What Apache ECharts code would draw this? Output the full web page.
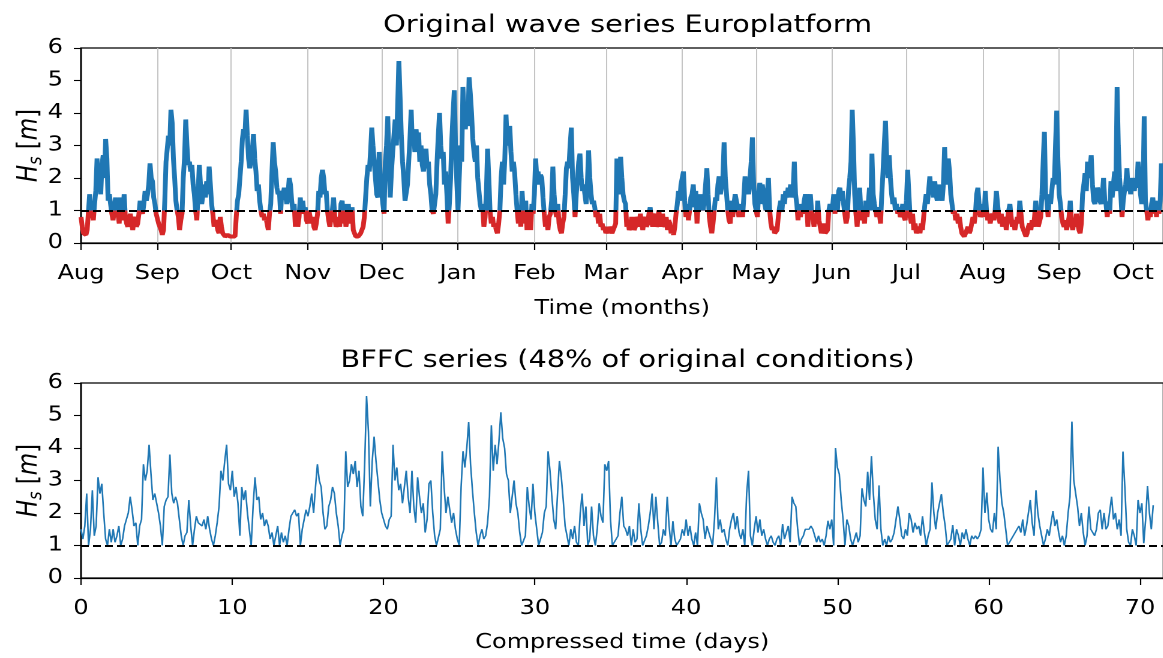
<!DOCTYPE html>
<html>
<head>
<meta charset="utf-8">
<title>Europlatform wave series</title>
<script src="https://cdn.jsdelivr.net/npm/echarts@6/dist/echarts.min.js"></script>
<style>
  html, body { margin: 0; padding: 0; background: #fff; overflow: hidden; }
  #wrap { width: 1163px; height: 658px; overflow: hidden; }
  /* the figure is laid out on a narrower canvas and widened 1.2x */
  #chart { width: 970px; height: 658px; transform: scaleX(1.2); transform-origin: 0 0; }
</style>
</head>
<body>
<div id="wrap"><div id="chart"></div></div>
<script>
// ---- Hs [m] at Europlatform, two samples per day (00h, 12h), Aug 2015 - Oct 2016 ----
const aug15 = [0.8,0.5, 0.3,0.35, 0.25,0.4, 0.4,1.5, 0.8,0.9, 0.7,1.2, 1.6,2.6, 1.8,2.1, 1.5,2.4, 2.7,2.0,
  3.2,2.6, 1.3,1.5, 1.5,0.9, 0.7,1.0, 1.4,0.8, 0.9,0.6, 1.4,0.7, 0.9,1.5, 0.8,0.6, 0.5,0.7,
  0.9,0.6, 0.4,0.7, 0.8,0.5, 0.6,0.9, 1.3,1.0, 0.9,1.2, 1.6,1.3, 1.5,1.8, 2.45,2.0, 1.9,1.4, 1.2,0.9];
const sep15 = [0.9,0.6, 0.5,0.4, 0.25,0.4, 1.3,2.5, 2.5,3.3, 3.0,4.1, 3.7,2.6, 2.0,1.3, 1.0,0.8, 0.4,0.7,
  0.9,2.0, 2.6,3.8, 3.0,2.4, 2.5,2.2, 2.4,1.8, 1.5,1.0, 0.7,1.5, 2.4,1.8, 1.2,1.5, 1.8,1.4,
  1.9,1.5, 2.35,1.8, 1.2,0.9, 0.5,0.7, 0.6,0.4, 0.3,0.8, 0.5,0.3, 0.25,0.2, 0.2,0.25, 0.2,0.2];
const oct15 = [0.2,0.2, 0.25,0.2, 0.8,1.3, 1.5,2.0, 2.5,3.2, 3.5,3.3, 4.1,3.3, 2.6,2.3, 2.5,2.8, 3.35,2.6,
  2.2,1.6, 1.8,1.3, 1.0,0.8, 0.9,0.7, 0.8,0.6, 0.4,0.9, 1.2,2.2, 3.1,2.5, 2.2,1.7, 1.5,1.6,
  0.9,1.6, 1.5,1.7, 1.5,1.2, 1.5,2.0, 1.8,1.3, 1.0,1.2, 0.5,0.9, 0.5,0.8, 1.4,0.9, 1.3,0.9, 1.1,0.7];
const nov15 = [0.6,1.0, 0.8,0.6, 0.8,0.5, 0.4,0.6, 0.9,1.6, 1.4,2.0, 2.25,2.0, 1.5,1.6, 1.0,0.7, 0.5,0.8,
  1.0,1.4, 0.8,0.5, 0.6,0.8, 0.5,1.2, 1.3,0.6, 1.2,0.5, 0.7,1.2, 0.6,0.8, 1.1,0.4, 0.3,0.2,
  0.25,0.2, 0.2,0.3, 0.3,0.5, 0.8,1.4, 2.0,2.4, 2.2,2.8, 3.55,3.0, 2.5,2.0, 1.5,1.4, 2.8,2.0];
const dec15 = [1.6,1.2, 0.9,2.5, 3.0,3.9, 2.5,1.4, 2.2,2.8, 3.3,3.8, 3.0,4.2, 5.6,4.5, 3.3,2.5, 2.0,1.3,
  1.3,1.8, 2.5,3.2, 4.1,3.0, 3.4,2.8, 3.5,3.0, 3.4,2.5, 3.0,2.4, 2.2,2.6, 2.9,2.3, 2.5,1.8,
  1.5,1.0, 0.9,1.2, 1.5,2.5, 3.3,4.0, 3.0,2.6, 2.8,1.8, 2.2,1.5, 0.6,1.2, 2.0,3.2, 4.0,4.7, 3.0,1.9];
const jan16 = [1.0,2.0, 3.0,2.5, 4.8,4.0, 3.5,4.2, 3.6,5.1, 4.6,4.0, 3.2,2.8, 2.5,3.0, 2.0,1.6, 1.2,1.0,
  1.2,0.5, 0.8,1.5, 2.9,2.0, 1.0,0.6, 0.8,0.5, 0.6,0.4, 0.3,0.6, 1.0,2.0, 2.5,1.8, 2.6,3.95,
  3.0,3.2, 3.6,2.8, 2.2,2.5, 2.15,1.5, 1.0,0.6, 0.9,0.5, 1.6,1.0, 0.6,1.3, 0.4,0.8, 1.0,0.4, 1.2,0.9];
const feb16 = [1.5,2.6, 2.0,2.2, 1.8,2.1, 2.0,1.4, 0.9,0.5, 0.7,0.4, 0.8,0.9, 1.3,2.35, 1.5,1.0, 0.8,1.2,
  0.6,0.4, 0.3,0.6, 0.8,1.5, 2.3,2.5, 2.3,3.0, 3.55,2.0, 1.5,0.8, 1.5,2.0, 2.5,2.75, 2.0,1.6,
  1.8,1.5, 1.2,1.8, 2.85,2.0, 1.5,1.2, 1.3,1.1, 0.8,1.0, 0.6,0.9, 0.5,0.6, 0.4,0.5];
const mar16 = [0.3,0.4, 0.3,0.5, 0.4,0.3, 0.4,0.5, 0.6,2.6, 1.5,1.8, 2.65,2.0, 1.5,1.3, 1.2,0.5, 0.7,0.4,
  0.5,0.8, 0.6,0.4, 0.5,0.8, 0.7,0.5, 0.9,0.6, 0.4,0.7, 0.8,0.5, 0.6,0.9, 1.1,0.7, 0.5,0.8,
  0.9,0.5, 0.6,1.0, 0.7,0.5, 0.9,0.6, 0.5,0.8, 0.4,0.7, 0.6,0.3, 0.4,0.25, 0.5,0.9, 1.2,1.6, 1.3,1.8];
const apr16 = [1.8,2.2, 1.3,0.8, 1.2,0.7, 1.0,1.4, 1.5,1.8, 1.1,1.6, 0.6,1.2, 1.0,1.5, 1.2,1.0, 1.3,1.8,
  2.3,1.5, 0.8,0.5, 0.3,0.6, 1.0,1.4, 1.3,1.8, 2.05,1.5, 1.5,2.0, 3.1,2.0, 1.5,1.0, 0.7,0.6,
  1.3,0.8, 1.2,1.5, 1.3,1.1, 0.8,1.2, 1.0,0.8, 1.4,2.05, 1.6,1.8, 1.5,2.0, 2.5,3.25, 1.8,1.2];
const may16 = [1.0,0.8, 1.5,1.85, 1.2,1.8, 1.5,1.2, 1.0,1.5, 2.0,1.0, 0.6,0.4, 0.5,0.3, 0.25,0.4, 0.8,1.1,
  1.3,1.0, 1.5,1.2, 1.6,1.4, 1.7,1.5, 1.8,1.4, 1.6,2.5, 1.5,1.2, 0.7,1.2, 0.8,1.1, 0.9,1.3,
  1.5,1.2, 0.5,1.3, 1.5,1.0, 0.8,0.5, 0.9,0.6, 1.3,0.7, 0.5,0.3, 0.4,0.6, 0.3,0.25, 0.4,1.0, 1.2,1.0];
const jun16 = [1.1,1.5, 0.9,1.4, 1.0,1.6, 1.7,1.3, 1.6,1.2, 0.9,0.6, 0.8,1.6, 2.0,2.5, 4.1,3.0, 1.5,0.9,
  0.5,1.2, 1.7,1.0, 0.7,0.9, 0.6,1.3, 0.8,1.2, 1.7,1.0, 2.75,1.5, 1.2,1.0, 0.8,1.1, 0.9,0.6,
  1.5,2.2, 3.0,3.76, 2.6,2.0, 2.7,2.0, 1.5,1.2, 1.4,1.0, 1.2,0.9, 1.1,0.8, 0.9,1.2, 0.8,0.7];
const jul16 = [1.3,2.25, 1.5,0.8, 0.6,0.9, 0.4,0.6, 0.3,0.25, 0.5,0.3, 0.6,0.4, 0.8,1.2, 1.5,1.2, 1.6,2.05,
  1.5,1.8, 1.4,1.9, 1.5,1.3, 1.8,1.4, 1.6,1.3, 1.8,2.95, 2.0,1.8, 2.6,2.2, 1.5,1.2, 0.9,1.0,
  0.7,0.9, 0.6,0.8, 0.5,0.3, 0.3,0.2, 0.3,0.4, 0.5,0.3, 0.4,0.6, 0.8,0.6, 0.9,1.5, 1.7,1.2, 0.8,0.9];
const aug16 = [1.2,0.8, 1.6,1.0, 0.7,0.9, 0.6,0.8, 0.9,0.7, 1.0,1.6, 1.2,0.8, 0.6,0.9, 0.5,0.7, 0.8,0.4,
  0.7,1.0, 1.2,0.8, 0.5,0.7, 0.4,0.6, 0.8,0.6, 1.3,0.9, 0.5,0.4, 0.3,0.2, 0.3,0.5, 0.6,0.4,
  0.7,0.5, 0.8,1.3, 0.9,0.5, 0.5,0.8, 1.5,2.5, 3.42,1.5, 1.3,0.8, 1.5,1.2, 1.6,2.0, 1.8,3.0, 4.07,2.5];
const sep16 = [1.5,1.2, 0.8,0.6, 0.5,0.7, 0.4,0.6, 0.8,1.3, 0.6,0.4, 0.7,0.5, 0.9,0.6, 0.4,0.3, 0.6,1.5,
  1.8,2.15, 1.6,2.5, 2.0,2.3, 2.7,1.8, 1.3,1.2, 1.4,1.7, 1.6,1.3, 1.2,1.5, 2.0,1.3, 1.2,0.8,
  1.2,0.9, 1.9,1.4, 1.8,2.2, 1.6,4.8, 3.0,2.0, 1.5,0.8, 1.3,1.6, 1.8,2.3, 1.6,1.9, 1.5,2.0];
const oct16 = [1.8,1.6, 2.0,1.7, 2.5,2.1, 1.5,1.2, 1.5,3.9, 1.3,1.0, 0.7,1.0, 0.8,1.2, 1.4,0.9, 1.3,0.8,
  1.2,0.9, 1.3,2.45, 1.8,2.4];

// month starts, in days after 1 Aug 2015, and their tick labels
const monthStarts = [0, 31, 61, 92, 122, 153, 184, 213, 244, 274, 305, 335, 366, 397, 427];
const monthLabels = ['Aug', 'Sep', 'Oct', 'Nov', 'Dec', 'Jan', 'Feb', 'Mar', 'Apr', 'May', 'Jun', 'Jul', 'Aug', 'Sep', 'Oct'];

// ---- BFFC series: Hs [m] above the 1 m threshold, eight samples per compressed day ----
const bffc00 = [
  1.5,1.2,1.6,2.6,1.0,1.5,2.7,1.3,  1.6,3.1,2.6,2.9,2.0,1.2,1.0,1.5,  1.1,1.5,1.1,1.3,1.6,1.0,1.2,1.6,
  1.8,2.0,2.5,2.1,1.6,1.7,1.0,1.6,  1.8,3.5,3.0,3.3,4.1,3.2,2.4,2.6,  2.3,2.0,1.6,1.0,2.2,2.4,2.5,3.8,
  2.6,2.3,2.5,2.3,1.8,1.3,1.0,1.3,  1.4,2.4,1.6,1.0,1.5,1.9,1.7,1.7,  1.6,1.8,1.5,1.9,1.5,1.2,1.0,1.3,
  1.7,2.2,3.3,3.0,3.6,4.1,2.9,2.7];
const bffc10 = [
  3.3,2.5,2.8,2.3,1.3,2.8,2.4,2.7,  2.0,1.5,1.0,2.2,3.1,2.4,2.5,1.8,  2.0,1.6,1.8,1.6,1.2,1.4,1.0,1.3,
  1.6,1.0,1.4,1.1,1.3,1.0,1.5,1.9,  2.0,2.1,1.9,2.0,1.0,1.5,1.8,2.1,  1.9,2.2,2.6,2.0,2.8,3.5,3.0,2.8,
  2.0,1.5,1.6,2.2,2.4,2.8,2.6,2.0,  1.6,1.0,1.3,1.5,3.9,2.8,3.0,3.5,  3.2,3.6,2.8,3.3,2.2,1.9,3.5,5.6,
  4.5,2.2,3.6,4.35,3.6,3.0,2.4,2.0];
const bffc20 = [
  2.0,1.6,1.5,1.8,1.9,4.1,3.0,3.4,  2.7,2.9,2.3,2.8,3.3,2.5,2.0,3.3,  2.2,1.7,3.1,2.5,2.0,2.3,1.4,1.8,
  2.9,3.0,2.0,1.3,1.0,1.0,1.5,3.9,  2.8,2.0,2.5,2.1,1.7,2.0,1.5,1.2,  1.0,2.8,3.9,3.4,4.0,4.8,3.5,2.7,
  2.0,1.4,1.0,1.3,1.5,1.2,1.3,1.7,  2.5,4.7,3.3,4.1,3.5,4.2,5.1,4.3,  4.0,3.2,3.0,2.0,2.5,3.0,2.3,2.0,
  1.4,1.0,1.0,1.3,2.8,2.2,1.8,2.9];
const bffc30 = [
  2.0,1.5,1.0,1.0,1.4,2.0,2.2,3.9,  3.3,2.5,1.8,1.5,2.6,3.6,3.1,2.4,  1.6,1.3,1.0,1.5,1.2,1.6,1.1,1.0,
  2.0,2.6,1.6,2.2,1.0,1.2,2.2,1.3,  1.0,1.5,2.3,1.9,1.7,3.5,3.3,3.6,  1.8,1.0,1.1,1.2,1.3,2.0,2.5,1.6,
  1.5,1.3,1.6,1.0,1.5,1.1,1.2,2.3,  1.5,1.0,1.0,1.3,1.6,2.0,2.6,1.5,  2.5,1.7,1.0,1.1,1.5,1.3,2.5,1.6,
  1.0,1.75,1.2,1.0,1.0,1.2,1.5,1.3];
const bffc40 = [
  1.8,1.3,1.6,1.2,1.0,1.4,1.0,2.3,  2.0,1.8,1.2,1.6,1.6,1.2,1.0,1.8,  3.1,1.5,1.8,1.4,1.5,1.2,1.0,1.5,
  1.8,2.0,1.5,1.9,1.4,1.2,1.5,1.0,  2.6,3.3,1.3,1.0,1.5,1.9,1.4,1.8,  1.3,1.5,1.2,1.0,1.2,1.3,1.1,1.0,
  1.2,1.3,1.0,1.66,1.2,1.4,1.6,1.1,  2.5,2.3,2.2,1.5,1.0,1.2,1.3,1.5,  1.5,1.5,1.6,1.5,1.3,1.1,1.3,1.1,
  1.2,1.0,1.3,1.76,1.5,1.8,1.0,4.0];
const bffc50 = [
  3.4,3.2,2.4,1.8,1.0,1.8,1.6,1.2,  1.0,1.2,1.4,1.1,1.3,2.76,2.4,2.2,  3.27,2.4,3.75,2.6,1.8,1.5,2.85,1.5,
  1.0,1.2,1.0,1.3,1.1,1.2,1.4,1.8,  2.2,1.8,1.3,1.2,1.5,1.3,2.0,1.8,  1.4,1.7,1.5,1.6,1.3,1.9,1.4,1.0,
  1.3,1.5,2.94,2.0,1.5,2.0,2.3,2.58,  2.0,1.6,1.0,1.0,1.2,1.63,1.0,1.5,  1.3,1.0,1.4,1.2,1.5,1.2,1.0,1.3,
  1.2,1.3,1.2,1.3,1.5,3.4,2.0,2.63];
const bffc60 = [
  1.8,1.5,1.4,2.0,1.5,4.04,3.0,2.3,  2.0,1.5,1.0,1.0,1.2,1.3,1.4,1.5,  1.6,1.4,1.8,1.3,1.6,2.0,2.4,1.7,
  1.3,2.7,2.0,1.6,1.3,1.0,1.2,1.5,  1.3,1.7,2.06,1.6,1.8,1.4,1.1,1.3,  1.0,1.3,2.0,2.5,4.81,3.0,2.6,2.2,
  1.6,2.0,1.4,1.0,1.3,2.2,1.5,1.5,  1.3,1.5,2.0,2.1,1.5,2.0,1.5,1.6,  1.6,2.5,1.8,2.0,1.5,1.8,1.3,3.89,
  2.8,1.5,1.1,1.0,1.5,1.3,1.0,2.4,  2.0,2.3,1.07,1.8,2.83,2.0,1.5,2.24];

const dayTicks = [0, 10, 20, 30, 40, 50, 60, 70];
const threshold = 1;

// ---- assemble series ----
const hsOriginal = [].concat(aug15, sep15, oct15, nov15, dec15, jan16, feb16, mar16,
  apr16, may16, jun16, jul16, aug16, sep16, oct16);
const originalData = hsOriginal.map((v, i) => [i / 2, v]);
const hsBffc = [].concat(bffc00, bffc10, bffc20, bffc30, bffc40, bffc50, bffc60);
const bffcData = hsBffc.map((v, i) => [i / 8, v]);

const FONT = 'DejaVu Sans';
const BLUE = '#1f77b4';
const RED = '#d62728';
const txt = { color: '#000', fontFamily: FONT, fontSize: 20 };

const hsName = '{i|H}{s|s} [{i|m}]';
const hsRich = {
  i: { fontFamily: FONT, fontSize: 23, fontStyle: 'italic', color: '#000', lineHeight: 28 },
  s: { fontFamily: FONT, fontSize: 16, fontStyle: 'italic', color: '#000', lineHeight: 16, verticalAlign: 'bottom' }
};

const thresholdLine = {
  silent: true,
  symbol: ['none', 'none'],
  label: { show: false },
  lineStyle: { color: '#000', type: [6.5, 3.5], width: 2 },
  data: [{ yAxis: threshold }]
};

function yAxisFor(gridIndex) {
  return {
    type: 'value', gridIndex, min: 0, max: 6, interval: 1,
    name: hsName, nameLocation: 'middle', nameRotate: 90, nameGap: 29, nameMoveOverlap: false,
    nameTextStyle: { color: '#000', fontFamily: FONT, fontSize: 23, lineHeight: 28, rich: hsRich },
    axisLine: { show: true, lineStyle: { color: '#000', width: 1.3 } },
    axisTick: { show: true, length: 6, lineStyle: { color: '#000', width: 1.1 } },
    axisLabel: Object.assign({ margin: 15 }, txt),
    splitLine: { show: false }
  };
}

function gridAt(top) {
  return {
    left: 67.5, top, width: 902, height: 195,
    containLabel: false, outerBoundsMode: 'none',
    show: true, borderColor: '#000', borderWidth: 1.3, backgroundColor: 'transparent'
  };
}

const chart = echarts.init(document.getElementById('chart'), null, { renderer: 'canvas', devicePixelRatio: 2 });
chart.setOption({
  animation: false,
  backgroundColor: '#fff',
  title: [
    { text: 'Original wave series Europlatform', left: 518, top: 9, textAlign: 'center',
      textStyle: { fontFamily: FONT, fontSize: 24, fontWeight: 'normal', color: '#000' } },
    { text: 'BFFC series (48% of original conditions)', left: 518, top: 344, textAlign: 'center',
      textStyle: { fontFamily: FONT, fontSize: 24, fontWeight: 'normal', color: '#000' } }
  ],
  grid: [gridAt(48), gridAt(383)],
  xAxis: [
    {
      type: 'value', gridIndex: 0, min: 0, max: 439.3,
      name: 'Time (months)', nameLocation: 'middle', nameGap: 56, nameTextStyle: txt,
      axisLine: { onZero: false, lineStyle: { color: '#000', width: 1.3 } },
      axisTick: { customValues: monthStarts, length: 7, lineStyle: { color: '#000', width: 1.1 } },
      axisLabel: Object.assign({
        customValues: monthStarts, margin: 21,
        formatter: v => monthLabels[monthStarts.indexOf(v)]
      }, txt),
      splitLine: { show: true, lineStyle: { color: '#c4c4c4', width: 1 } }
    },
    {
      type: 'value', gridIndex: 1, min: 0, max: 71.55, interval: 10,
      name: 'Compressed time (days)', nameLocation: 'middle', nameGap: 55, nameTextStyle: txt,
      axisLine: { onZero: false, lineStyle: { color: '#000', width: 1.3 } },
      axisTick: { customValues: dayTicks, length: 7, lineStyle: { color: '#000', width: 1.1 } },
      axisLabel: Object.assign({ customValues: dayTicks, margin: 21 }, txt),
      splitLine: { show: false }
    }
  ],
  yAxis: [yAxisFor(0), yAxisFor(1)],
  visualMap: {
    type: 'piecewise', show: false, seriesIndex: 0, dimension: 1,
    pieces: [{ gte: -1, lt: threshold, color: RED }, { gte: threshold, lte: 10, color: BLUE }]
  },
  series: [
    {
      type: 'line', xAxisIndex: 0, yAxisIndex: 0, data: originalData,
      showSymbol: false, lineStyle: { width: 4 }, clip: true,
      markLine: thresholdLine
    },
    {
      type: 'line', xAxisIndex: 1, yAxisIndex: 1, data: bffcData,
      showSymbol: false, color: BLUE, lineStyle: { width: 1.3, color: BLUE }, clip: true,
      markLine: thresholdLine
    }
  ]
});
</script>
</body>
</html>
